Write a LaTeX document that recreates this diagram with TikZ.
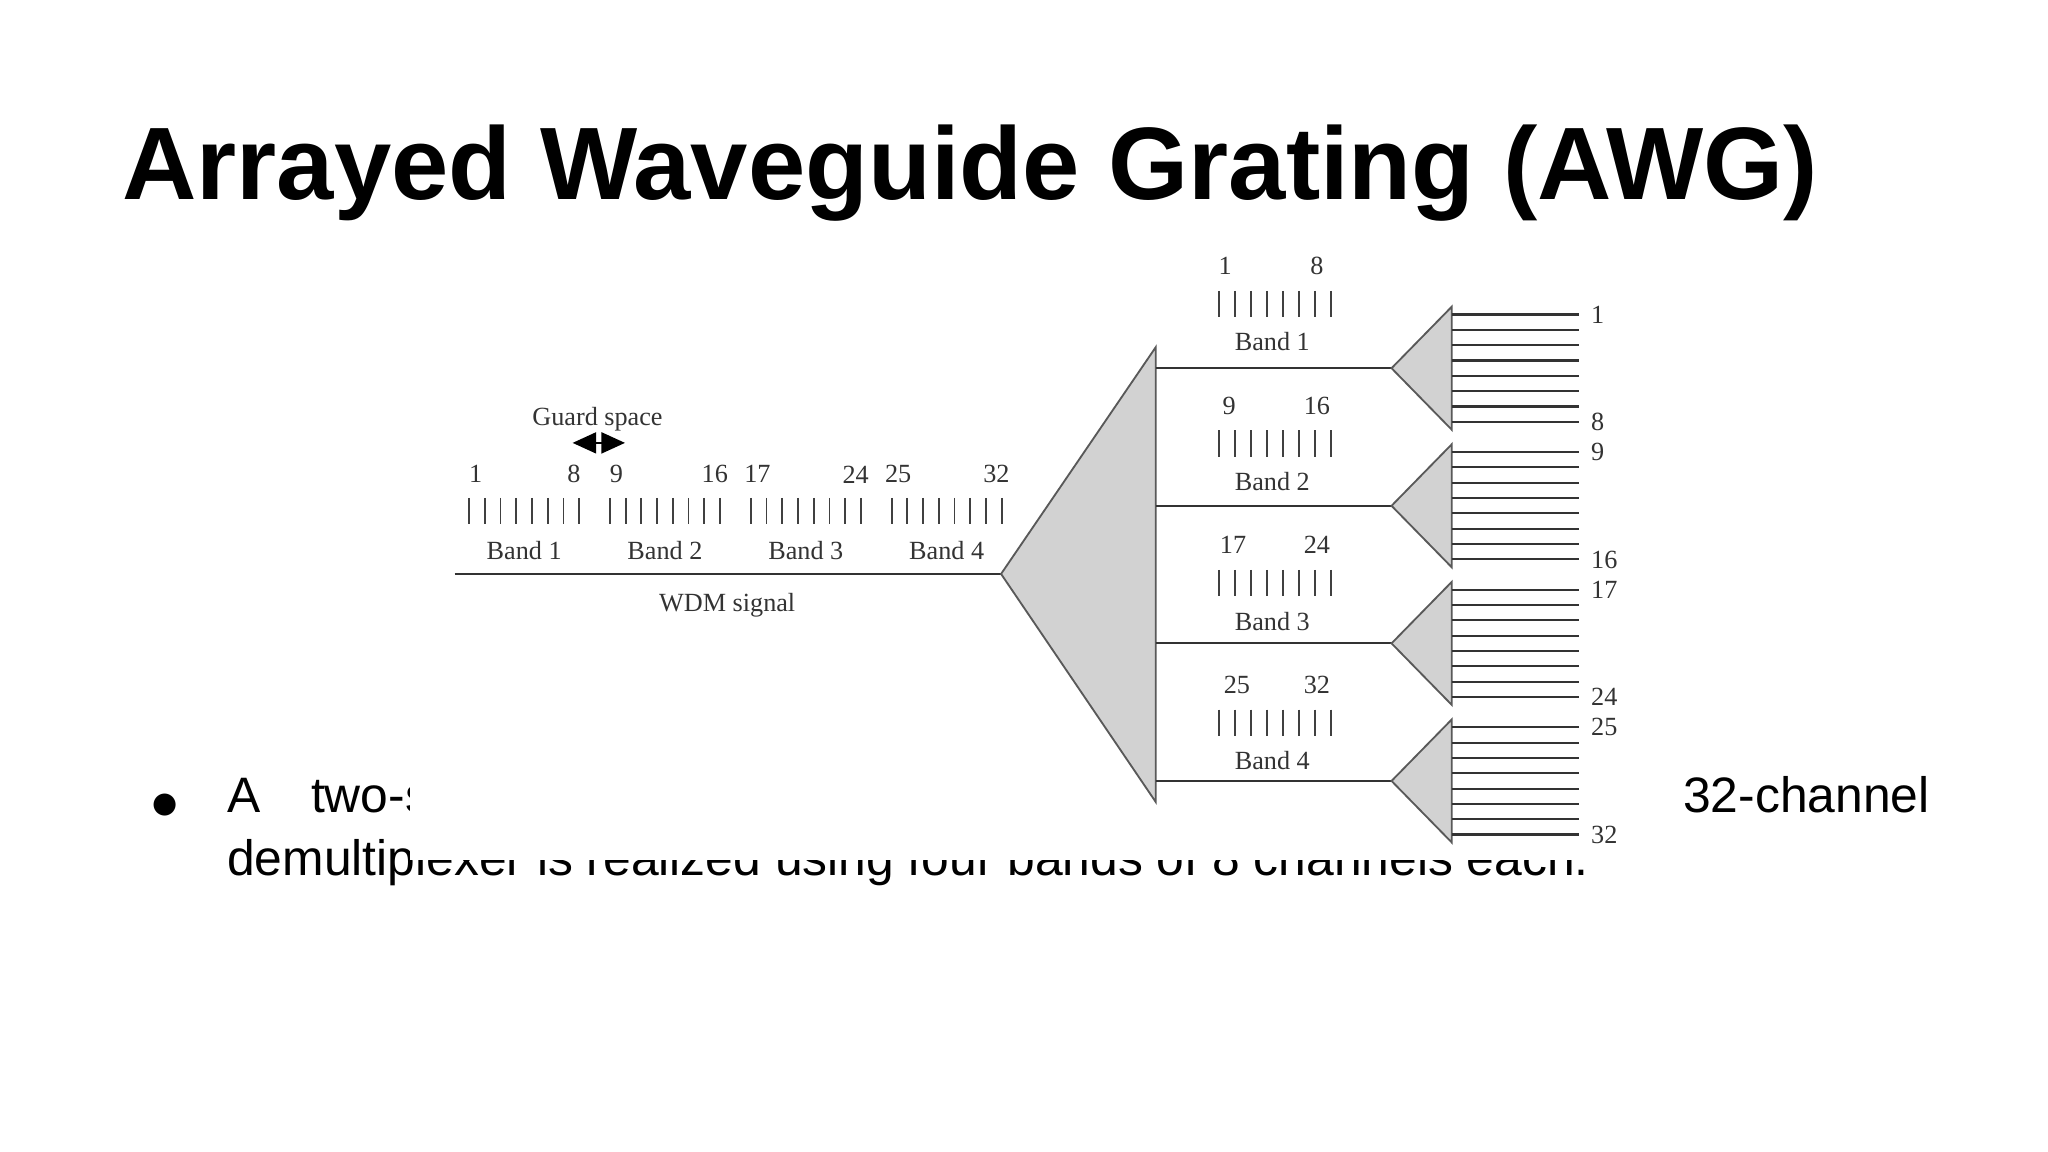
\documentclass[tikz,border=0pt]{standalone}
\usepackage{fontspec}
\setmainfont{Liberation Serif}
\newfontfamily\arialf{Liberation Sans}
\usetikzlibrary{arrows.meta}
\tikzset{
  fig/.style={font=\fontsize{10}{12}\selectfont, text=black!80, inner sep=0pt},
  wire/.style={draw=black!80, line width=0.8pt},
  tick/.style={draw=black!75, line width=0.7pt},
  prism/.style={draw=black!65, fill=gray!35, line width=0.7pt},
  slide/.style={font=\arialf\fontsize{19}{22}\selectfont, inner sep=0pt, anchor=base west}
}
\begin{document}
\begin{tikzpicture}[x=0.5pt,y=-0.5pt]
\useasboundingbox (0,0) rectangle (1563,879);
% slide text
\node[font=\arialf\bfseries\fontsize{39.3}{44}\selectfont, anchor=base west, inner sep=0pt] (title) at (93,152) {Arrayed Waveguide Grating (AWG)};
\node[slide] (bul) at (116,620) {\fontspec{DejaVu Sans}\fontsize{11}{14}\selectfont ●};
\node[slide] (la) at (173,620) {A};
\node[slide] (lb) at (237,620) {two-stage AWG-based};
\node[slide, anchor=base east] (lc) at (1473,620) {32-channel};
\node[slide] (l2) at (173,668) {demultiplexer is realized using four bands of 8 channels each.};
% image background covering the text
\fill[white] (313,188) rectangle (1250,656);
% left part
\coordinate (wl) at (347,438);
\coordinate (apex) at (764,438);
\draw[wire] (wl) -- (apex);
\node[fig] (wdm) at (555,462) {WDM signal};
\node[fig] (gs) at (456,320) {Guard space};
\coordinate (ga) at (437,338); \coordinate (gb) at (477,338);
\draw[line width=0.8pt, {Triangle[length=9pt,width=8pt]}-{Triangle[length=9pt,width=8pt]}] (ga) -- (gb);
\foreach \k/\a/\b/\lab in {0/1/8/1, 1/9/16/2, 2/17/24/3, 3/25/32/4}{
  \pgfmathsetmacro{\xs}{358+107.5*\k}
  \foreach \i in {0,...,7}{
    \draw[tick] ({\xs+12*\i},380) -- ({\xs+12*\i},400);
  }
  \node[fig] (n\a) at ({\xs+5},362) {\a};
  \node[fig] (n\b) at ({\xs+80},362) {\b};
  \node[fig] (b\lab) at ({\xs+42},420) {Band \lab};
}
% big triangle
\coordinate (bt) at (882,265); \coordinate (bb) at (882,612);
\draw[prism] (apex) -- (bt) -- (bb) -- cycle;
% bands
\foreach \k/\a/\b in {0/1/8, 1/9/16, 2/17/24, 3/25/32}{
  \pgfmathsetmacro{\yb}{281+105*\k}
  \pgfmathsetmacro{\yt}{\yb-59+1.5*\k}
  \coordinate (s\k) at (882,\yb);
  \coordinate (p\k) at (1062,\yb);
  \draw[wire] (s\k) -- (p\k);
  \draw[prism] (p\k) -- (1108,{\yb-47}) -- (1108,{\yb+47}) -- cycle;
  \foreach \i in {0,...,7}{
    \draw[wire] (1108,{\yb-41+11.7*\i}) -- (1205,{\yb-41+11.7*\i});
    \draw[tick] ({930+12.3*\i},\yt) -- ({930+12.3*\i},{\yt+20});
  }
  \node[fig] (m\a) at ({935+3*\k},{\yt-19}) {\a};
  \node[fig] (m\b) at (1005,{\yt-19}) {\b};
  \node[fig] (c\k) at (971,{\yt+39}) {Band \the\numexpr\k+1\relax};
  \node[fig, anchor=west] (o\a) at (1214,{\yb-41}) {\a};
  \node[fig, anchor=west] (o\b) at (1214,{\yb+41}) {\b};
}
\end{tikzpicture}
\end{document}
